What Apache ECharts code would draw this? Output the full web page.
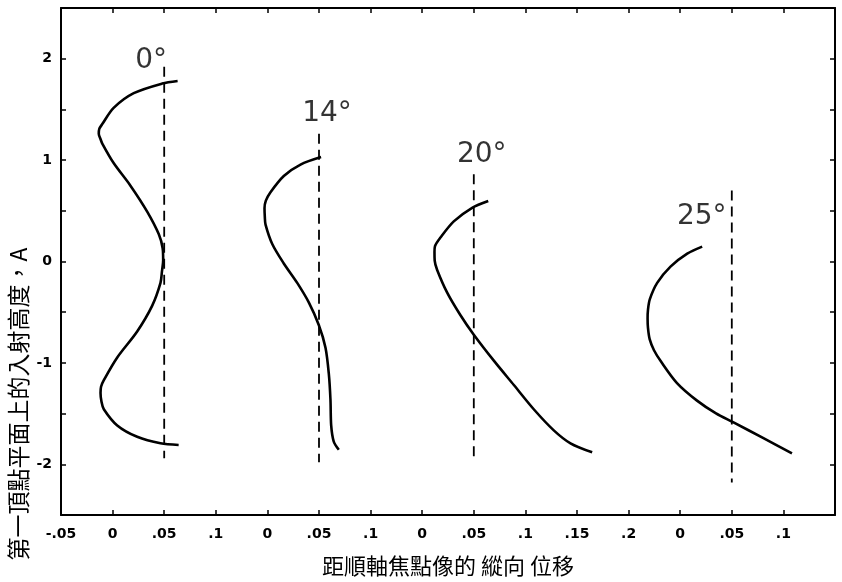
<!DOCTYPE html>
<html>
<head>
<meta charset="utf-8">
<script src="https://cdn.jsdelivr.net/npm/echarts@6/dist/echarts.min.js"></script>
<style>html,body{margin:0;padding:0;background:#fff}#c{width:842px;height:582px}</style>
</head>
<body>
<div id="c"></div>
<script>
// ---- data ----
const angleLabels = ['0°', '14°', '20°', '25°'];
// position of each curve's local "0" on the shared horizontal scale
const panelOffsets = [0, 0.15, 0.30, 0.55];
// tick labels along the bottom axis (every 0.05 from -0.05)
const xTickLabels = ['-.05', '0', '.05', '.1', '0', '.05', '.1', '0', '.05', '.1', '.15', '.2', '0', '.05', '.1', ''];
const yTickLabels = ['-2', '-1', '0', '1', '2'];

// curves: [longitudinal displacement (local), incidence height A]
const curve0 = [[0.063,1.78],[0.048,1.755],[0.0205,1.66],[0.001,1.515],[-0.010,1.355],[-0.0129,1.308],[-0.0134,1.26],[-0.0118,1.21],[-0.010,1.163],[0.001,0.971],[0.0173,0.748],[0.0335,0.492],[0.0448,0.268],[0.0485,0.13],[0.049,0.012],[0.0478,-0.10],[0.0464,-0.211],[0.0384,-0.435],[0.0238,-0.690],[0.0045,-0.946],[-0.0085,-1.17],[-0.0112,-1.235],[-0.0117,-1.297],[-0.0108,-1.38],[-0.0085,-1.457],[0.0045,-1.617],[0.0238,-1.729],[0.0464,-1.793],[0.064,-1.809]];
const curve14 = [[0.052,1.03],[0.0321,0.956],[0.0159,0.844],[0.003,0.684],[-0.0015,0.60],[-0.0028,0.524],[-0.0025,0.44],[-0.0018,0.364],[0.0047,0.173],[0.0159,-0.019],[0.0289,-0.211],[0.0401,-0.403],[0.0498,-0.626],[0.0563,-0.850],[0.0595,-1.106],[0.0611,-1.361],[0.0618,-1.617],[0.0643,-1.777],[0.0692,-1.857]];
const curve20 = [[0.064,0.597],[0.0484,0.530],[0.0306,0.396],[0.0177,0.237],[0.0124,0.152],[0.0119,0.093],[0.0121,0.008],[0.0145,-0.083],[0.0242,-0.307],[0.0371,-0.530],[0.050,-0.722],[0.0694,-0.978],[0.0888,-1.218],[0.1081,-1.457],[0.1275,-1.665],[0.1437,-1.793],[0.1647,-1.882]];
const curve25 = [[0.0213,0.147],[0.0068,0.077],[-0.0094,-0.051],[-0.0223,-0.211],[-0.0294,-0.371],[-0.0312,-0.474],[-0.0316,-0.563],[-0.0312,-0.657],[-0.0296,-0.766],[-0.0254,-0.875],[-0.0186,-0.987],[-0.0031,-1.199],[0.0163,-1.372],[0.0347,-1.498],[0.0512,-1.585],[0.0802,-1.739],[0.1083,-1.893]];

// dashed reference (paraxial focus) lines
const focusX = [0.05, 0.05, 0.05, 0.05];
const focusTop = [1.92, 1.26, 0.86, 0.70];
const focusBottom = [-1.94, -1.98, -1.98, -2.18];

const xName = '距順軸焦點像的 縱向 位移';
const yName = '第一頂點平面上的入射高度，A';

// ---- styling ----
const labelOffsets = [[-13, -6], [8, -20], [8, -20], [-30, 26]];
const curves = [curve0, curve14, curve20, curve25];

const series = [];
curves.forEach((c, i) => {
  series.push({
    type: 'line',
    data: c.map(p => [p[0] + panelOffsets[i], p[1]]),
    smooth: 0.3,
    symbol: 'none',
    lineStyle: { color: '#000', width: 2.6 },
    z: 3
  });
  series.push({
    type: 'line',
    data: [[focusX[i] + panelOffsets[i], focusTop[i]], [focusX[i] + panelOffsets[i], focusBottom[i]]],
    symbol: 'none',
    lineStyle: { color: '#000', width: 1.8, type: [10, 6] },
    z: 2
  });
});
series.push({
  type: 'scatter',
  symbolSize: 1,
  itemStyle: { color: 'rgba(0,0,0,0)' },
  data: angleLabels.map((t, i) => ({
    value: [focusX[i] + panelOffsets[i], focusTop[i]],
    label: { offset: labelOffsets[i] }
  })),
  label: {
    show: true,
    position: 'inside',
    align: 'center',
    verticalAlign: 'middle',
    color: '#000',
    textBorderWidth: 0,
    fontSize: 28,
    fontFamily: 'DejaVu Sans',
    formatter: p => angleLabels[p.dataIndex]
  },
  z: 4
});

const axisLine = { show: true, onZero: false, lineStyle: { color: '#000', width: 2 } };
const axisTick = { show: true, inside: true, length: 5, lineStyle: { color: '#000', width: 1.5 } };
const tickFont = { color: '#000', fontWeight: 'bold', fontSize: 14, fontFamily: 'DejaVu Sans' };

const option = {
  animation: false,
  backgroundColor: '#fff',
  grid: { left: 61, right: 7, top: 8, bottom: 55 },
  xAxis: [{
    type: 'value', position: 'bottom', min: -0.05, max: 0.70, interval: 0.05,
    axisLine, axisTick, splitLine: { show: false },
    axisLabel: Object.assign({ margin: 12, showMaxLabel: true, formatter: v => xTickLabels[Math.round((v + 0.05) / 0.05)] || '' }, tickFont),
    name: xName, nameLocation: 'middle', nameGap: 40,
    nameTextStyle: { color: '#000', fontSize: 22, fontFamily: 'Noto Sans CJK TC' }
  }, {
    type: 'value', position: 'top', min: -0.05, max: 0.70, interval: 0.05,
    axisLine, axisTick, splitLine: { show: false }, axisLabel: { show: false }
  }],
  yAxis: [{
    type: 'value', position: 'left', min: -2.5, max: 2.5, interval: 0.5,
    axisLine, axisTick, splitLine: { show: false },
    axisLabel: Object.assign({ margin: 9, formatter: v => (Number.isInteger(v) ? yTickLabels[v + 2] : '') }, tickFont)
  }, {
    type: 'value', position: 'right', min: -2.5, max: 2.5, interval: 0.5,
    axisLine, axisTick, splitLine: { show: false }, axisLabel: { show: false }
  }],
  graphic: [{
    type: 'text', x: 18, y: 404, rotation: Math.PI / 2,
    style: { text: yName, fill: '#000', font: '23px "Noto Sans CJK TC"', align: 'center', verticalAlign: 'middle', textAlign: 'center', textVerticalAlign: 'middle' }
  }],
  series
};

const chart = echarts.init(document.getElementById('c'), null, { renderer: 'canvas' });
chart.setOption(option);
</script>
</body>
</html>
